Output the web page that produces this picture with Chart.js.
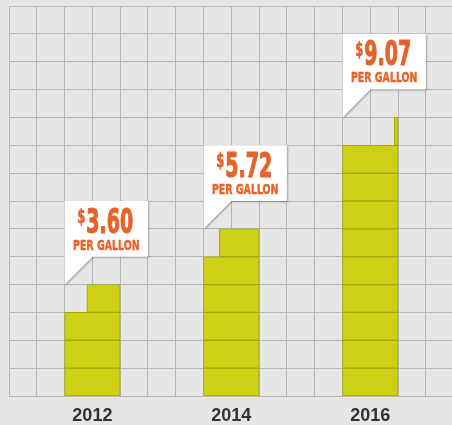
<!DOCTYPE html>
<html>
<head>
<meta charset="utf-8">
<script src="https://cdn.jsdelivr.net/npm/chart.js@4"></script>
<style>
  html, body { margin: 0; padding: 0; background: #e6e6e6; overflow: hidden; }
  #wrap { width: 452px; height: 425px; }
</style>
</head>
<body>
<div id="wrap"><canvas id="chart" width="452" height="425"></canvas></div>
<script>
// waarden
const years = ['2012', '2014', '2016'];
const pricePerGallon = [3.60, 5.72, 9.07];

// raster: 14 rijen, kolommen van 1 eenheid, balk = 2 kolommen breed
const ROWS = 14;
const COL_MAX = 15.94;
const FIRST_COL = 3;
const COL_STEP = 5;
const BAR_HALF = 1;

const rowLabels = Array.from({ length: ROWS }, (_, i) => String(i + 1));
const centers = years.map((_, i) => FIRST_COL + COL_STEP * i);

const ORANGE = '#e5632b';
const CONDENSED = '"Liberation Sans Narrow", "DejaVu Sans Condensed", sans-serif';

// elke rij is een gallon; de laatste (gedeeltelijke) rij is rechts uitgelijnd
function gallonRows(value, center) {
    const full = Math.floor(value);
    const frac = value - full;
    return rowLabels.map((_, r) => {
        if (r < full) return [center - BAR_HALF, center + BAR_HALF];
        if (r === full && frac > 0) return [center + BAR_HALF - 2 * BAR_HALF * frac, center + BAR_HALF];
        return null;
    });
}

// tekst horizontaal samengedrukt tekenen (smalle letter), iets aangezet
function squeezedText(ctx, text, x, y, font, sx, weight) {
    ctx.save();
    ctx.font = font;
    ctx.translate(x, y);
    ctx.scale(sx, 1);
    ctx.fillText(text, 0, 0);
    if (weight) {
        ctx.strokeStyle = ctx.fillStyle;
        ctx.lineWidth = weight;
        ctx.lineJoin = 'round';
        ctx.strokeText(text, 0, 0);
    }
    ctx.restore();
}

function squeezedWidth(ctx, text, font, sx) {
    ctx.save();
    ctx.font = font;
    const w = ctx.measureText(text).width * sx;
    ctx.restore();
    return w;
}

// tekstballonnen boven de balken
const calloutPlugin = {
    id: 'callouts',
    afterDatasetsDraw(chart) {
        const { ctx, scales: { x, y } } = chart;
        const rowH = Math.abs(y.getPixelForValue(0) - y.getPixelForValue(1));
        const colW = x.getPixelForValue(1) - x.getPixelForValue(0);

        pricePerGallon.forEach((v, i) => {
            const left = x.getPixelForValue(centers[i] - BAR_HALF);
            const right = left + 3 * colW;
            const tipY = y.getPixelForValue(Math.ceil(v) - 1) - rowH / 2;
            const bottom = tipY - rowH;
            const top = tipY - 3 * rowH;

            ctx.save();
            ctx.shadowColor = 'rgba(0,0,0,0.3)';
            ctx.shadowBlur = 2;
            ctx.shadowOffsetX = 1;
            ctx.shadowOffsetY = 1;
            ctx.fillStyle = '#ffffff';
            ctx.beginPath();
            ctx.moveTo(left, top);
            ctx.lineTo(right, top);
            ctx.lineTo(right, bottom);
            ctx.lineTo(left + colW, bottom);
            ctx.lineTo(left, tipY);
            ctx.closePath();
            ctx.fill();
            ctx.restore();

            const cx = (left + right) / 2 - 1;
            const num = v.toFixed(2);
            const numFont = 'bold 33px ' + CONDENSED;
            const dolFont = 'bold 19px ' + CONDENSED;
            const subFont = 'bold 14px ' + CONDENSED;
            const sNum = 0.64, sDol = 0.68, sSub = 0.75;

            ctx.save();
            ctx.fillStyle = ORANGE;
            ctx.textBaseline = 'alphabetic';
            ctx.textAlign = 'left';
            const wNum = squeezedWidth(ctx, num, numFont, sNum);
            const wDol = squeezedWidth(ctx, '$', dolFont, sDol);
            const startX = cx - (wNum + wDol + 1) / 2;
            const base = top + 31.5;
            squeezedText(ctx, '$', startX, base - 9.5, dolFont, sDol, 0.6);
            squeezedText(ctx, num, startX + wDol + 1, base, numFont, sNum, 1.2);

            const wSub = squeezedWidth(ctx, 'PER GALLON', subFont, sSub);
            squeezedText(ctx, 'PER GALLON', cx + 1 - wSub / 2, top + 48.5, subFont, sSub, 0.4);
            ctx.restore();
        });
    }
};

const ctx = document.getElementById('chart').getContext('2d');

new Chart(ctx, {
    type: 'bar',
    data: {
        labels: rowLabels,
        datasets: years.map((yr, i) => ({
            label: yr,
            data: gallonRows(pricePerGallon[i], centers[i]),
            backgroundColor: '#cdd014',
            borderColor: '#a5a70d',
            borderWidth: 1,
            borderSkipped: false,
            grouped: false,
            barPercentage: 1,
            categoryPercentage: 1
        }))
    },
    options: {
        indexAxis: 'y',
        responsive: false,
        animation: false,
        layout: { padding: { top: 6, left: 0, right: 0, bottom: 0 } },
        plugins: { legend: { display: false }, tooltip: { enabled: false } },
        scales: {
            x: {
                type: 'linear',
                min: 0,
                max: COL_MAX,
                grid: { color: '#b6b6b6', lineWidth: 1, drawTicks: false },
                border: { color: '#b6b6b6' },
                ticks: {
                    stepSize: 1,
                    includeBounds: false,
                    autoSkip: false,
                    maxRotation: 0,
                    padding: 9,
                    color: '#333333',
                    font: { family: '"Liberation Sans", Arial, sans-serif', weight: 'bold', size: 18 },
                    callback: (v) => {
                        const i = centers.indexOf(v);
                        return i >= 0 ? years[i] : '';
                    }
                },
                afterFit: (s) => { s.height = 29; }
            },
            y: {
                type: 'category',
                reverse: true,
                grid: { color: '#b6b6b6', lineWidth: 1, drawTicks: false, offset: true },
                border: { color: '#b6b6b6' },
                ticks: { display: false },
                afterFit: (s) => { s.width = 8; }
            }
        }
    },
    plugins: [calloutPlugin]
});
</script>
</body>
</html>
